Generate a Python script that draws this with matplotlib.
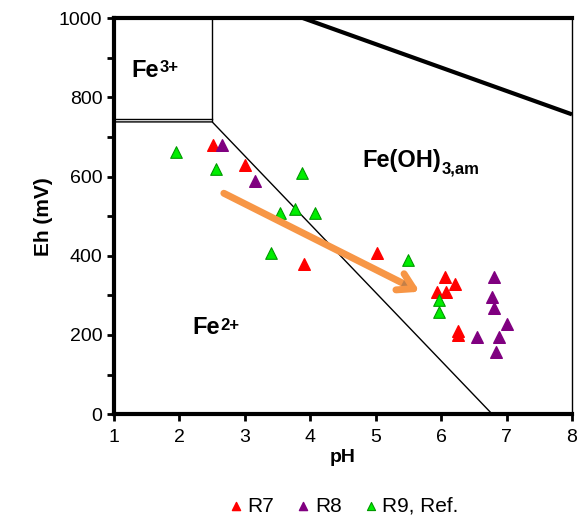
import numpy as np
import matplotlib
matplotlib.use("Agg")
import matplotlib.pyplot as plt
import matplotlib.patheffects as pe

plt.rcParams['font.family'] = ['Liberation Sans', 'DejaVu Sans']

# data
r7_ph = [2.51, 3.0, 3.9, 5.02, 6.06, 6.21, 5.94, 6.08, 6.26, 6.26]
r7_eh = [679, 629, 379, 407, 346, 328, 308, 308, 210, 200]

r8_ph = [2.65, 3.16, 6.81, 6.78, 6.81, 7.0, 6.55, 6.89, 6.83]
r8_eh = [679, 588, 346, 296, 268, 227, 195, 195, 157]

r9_ph = [1.95, 2.56, 3.87, 3.54, 3.77, 4.07, 3.40, 5.50, 5.97, 5.97]
r9_eh = [662, 619, 609, 508, 518, 508, 407, 389, 288, 258]

# stability field boundaries
fe3_ph = [2.5, 2.5]
fe3_eh = [1000, 740]
fe3_top_ph = [1, 2.5]
fe3_top_eh = [745, 745]
fe2_ph = [1, 2.5, 6.78]
fe2_eh = [738, 738, 0]
water_ph = [3.89, 8]
water_eh = [1000, 757]

fig = plt.figure(figsize=(5.79, 5.19), dpi=100)
ax = fig.add_axes([0.197, 0.202, 0.791, 0.763])

ax.plot(fe3_ph, fe3_eh, color='black', lw=1)
ax.plot(fe3_top_ph, fe3_top_eh, color='black', lw=1)
ax.plot(fe2_ph, fe2_eh, color='black', lw=1)
ax.plot(water_ph, water_eh, color='black', lw=3, solid_capstyle='butt')

ax.scatter(r7_ph, r7_eh, marker='^', s=70, color='#ff0000', label='R7', zorder=3)
ax.scatter(r8_ph, r8_eh, marker='^', s=70, color='#800080', label='R8', zorder=3)
ax.scatter(r9_ph, r9_eh, marker='^', s=70, color='#00ee00', edgecolor='#009900',
           linewidth=0.8, label='R9, Ref.', zorder=3)

ax.annotate('', xy=(5.71, 306), xytext=(2.64, 561),
            arrowprops=dict(arrowstyle='->, head_length=1.1, head_width=0.65',
                            color='#f79646', lw=5,
                            path_effects=[pe.SimplePatchShadow(offset=(1.5, -1.5), alpha=0.3),
                                          pe.Normal()]),
            zorder=4)

# region labels with super/subscripts
lab = dict(fontsize=17, fontweight='bold')
t1 = ax.text(1.27, 869, 'Fe', va='center', **lab)
ax.annotate('3+', xy=(1.0, 0.92), xycoords=t1, va='top', fontsize=12, fontweight='bold')
t2 = ax.text(4.8, 641, 'Fe(OH)', va='center', **lab)
ax.annotate('3,am', xy=(1.0, 0.12), xycoords=t2, va='center', fontsize=12, fontweight='bold')
t3 = ax.text(2.2, 219, 'Fe', va='center', **lab)
ax.annotate('2+', xy=(1.0, 0.92), xycoords=t3, va='top', fontsize=12, fontweight='bold')

ax.set_xlim(1, 8)
ax.set_ylim(0, 1000)
ax.set_xticks(range(1, 9))
ax.set_yticks(range(0, 1001, 200))
ax.set_yticks(range(100, 1000, 200), minor=True)
ax.tick_params(axis='both', which='both', direction='out', width=2, length=5, labelsize=14)
ax.tick_params(axis='x', pad=6)

for side in ['left', 'bottom', 'top']:
    ax.spines[side].set_linewidth(3)
ax.spines['right'].set_linewidth(1)

ax.set_xlabel('pH', fontsize=14, fontweight='bold', labelpad=2)
ax.set_ylabel('Eh (mV)', fontsize=15, fontweight='bold')

ax.legend(loc='center', bbox_to_anchor=(0.5, -0.233), ncol=3, frameon=False,
          fontsize=15, handletextpad=0.15, columnspacing=1.0, handlelength=0.8,
          markerscale=0.7, scatterpoints=1)

fig.savefig('out.png', dpi=100)
